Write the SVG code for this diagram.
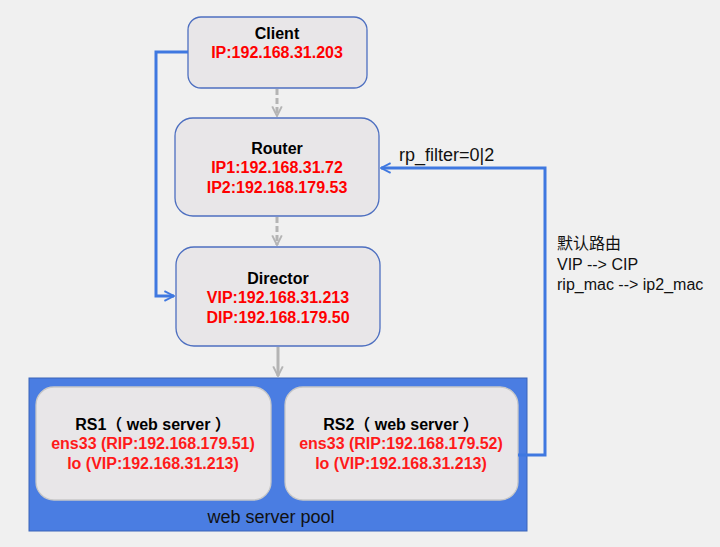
<svg xmlns="http://www.w3.org/2000/svg" width="720" height="547" viewBox="0 0 720 547">
<style>
.node{fill:#e8e6e8;stroke:#4d6fc0;stroke-width:1.3}
.t{font-family:"Liberation Sans",Arial,"Noto Sans CJK SC",sans-serif;font-size:16px;font-weight:bold;text-anchor:middle}
.r{fill:#ff0000}
.rs{fill:#ff1a1a}
.lbl{font-family:"Liberation Sans",Arial,"Noto Sans CJK SC",sans-serif;font-size:16px;fill:#111}
.blue{fill:none;stroke:#3f78e0;stroke-width:3}
.gray{fill:none;stroke:#b4b4b4;stroke-width:3}
</style>
<defs>
<marker id="ab" viewBox="0 0 10 10" refX="9" refY="5" markerWidth="4" markerHeight="4" orient="auto" markerUnits="strokeWidth"><path d="M1,1 L9,5 L1,9" fill="none" stroke="#3f78e0" stroke-width="1.6"/></marker>
<marker id="ag" viewBox="0 0 10 10" refX="9" refY="5" markerWidth="4" markerHeight="4" orient="auto" markerUnits="strokeWidth"><path d="M1,1 L9,5 L1,9" fill="none" stroke="#b4b4b4" stroke-width="1.6"/></marker>
</defs>
<rect x="0" y="0" width="720" height="547" fill="#f0f0f0"/>
<g id="pool">
<rect x="29" y="378" width="498" height="153" fill="#4a7de2" stroke="#3a64b8" stroke-width="1"/>
<text x="271" y="523" class="lbl" style="font-size:18px;text-anchor:middle">web server pool</text>
</g>
<g id="client">
<rect x="188" y="17" width="179" height="71" rx="13" class="node"/>
<text x="277" y="39" class="t">Client</text>
<text x="277" y="58" class="t r">IP:192.168.31.203</text>
</g>
<g id="router">
<rect x="175" y="118" width="204" height="98" rx="18" class="node"/>
<text x="277" y="154" class="t">Router</text>
<text x="277" y="173" class="t r">IP1:192.168.31.72</text>
<text x="277" y="193" class="t r">IP2:192.168.179.53</text>
</g>
<g id="director">
<rect x="176" y="247" width="204" height="99" rx="18" class="node"/>
<text x="278" y="284" class="t">Director</text>
<text x="278" y="303" class="t r">VIP:192.168.31.213</text>
<text x="278" y="323" class="t r">DIP:192.168.179.50</text>
</g>
<g id="rs1">
<rect x="36" y="387" width="235" height="113" rx="18" class="node" style="stroke:#c8c8c8"/>
<text x="153" y="430" class="t">RS1（ web server ）</text>
<text x="153" y="449" class="t rs">ens33 (RIP:192.168.179.51)</text>
<text x="153" y="469" class="t rs">lo (VIP:192.168.31.213)</text>
</g>
<g id="rs2">
<rect x="285" y="387" width="233" height="113" rx="18" class="node" style="stroke:#c8c8c8"/>
<text x="401" y="430" class="t">RS2（ web server ）</text>
<text x="401" y="449" class="t rs">ens33 (RIP:192.168.179.52)</text>
<text x="401" y="469" class="t rs">lo (VIP:192.168.31.213)</text>
</g>
<g id="connectors">
<path d="M277,89 V116" class="gray" stroke-dasharray="6,3" marker-end="url(#ag)"/>
<path d="M277,217 V245" class="gray" stroke-dasharray="6,3" marker-end="url(#ag)"/>
<path d="M278,347 V376" class="gray" marker-end="url(#ag)"/>
<path d="M188,52 H156 V296 H174" class="blue" marker-end="url(#ab)"/>
<path d="M518,455 H545 V168 H381" class="blue" marker-end="url(#ab)"/>
<text x="399" y="161" class="lbl" style="font-size:18px">rp_filter=0|2</text>
<text x="557" y="249" class="lbl">默认路由</text>
<text x="557" y="270" class="lbl">VIP --&gt; CIP</text>
<text x="557" y="290" class="lbl">rip_mac --&gt; ip2_mac</text>
</g>
</svg>
